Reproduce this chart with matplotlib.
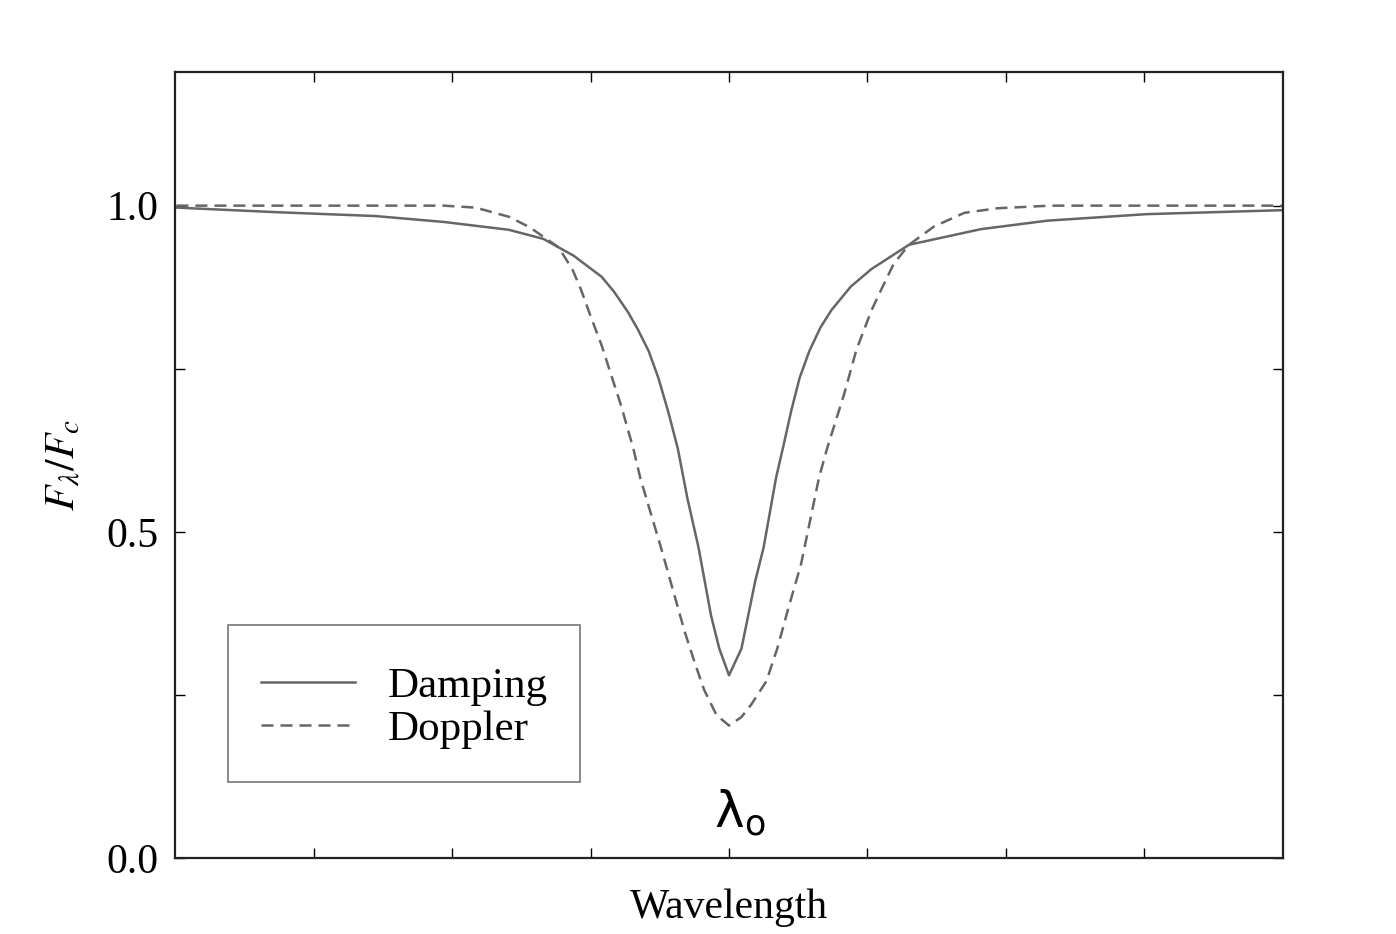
#======================================================================
# Line profile: Damping (Lorentzian-like) vs Doppler (Gaussian-like)
#======================================================================
import matplotlib
matplotlib.use('Agg')
import matplotlib.pyplot as plt
import numpy as np

#--------------------------------------------------------------------------
# Values (x in units of tick spacing, 0 = line centre)
#--------------------------------------------------------------------------
damp_x = [-3.99, -3.27, -2.55, -2.06, -1.59, -1.34, -1.23, -1.12, -1.02,
          -0.92, -0.83, -0.73, -0.66, -0.58, -0.51, -0.44, -0.37, -0.30,
          -0.22, -0.13, -0.07, 0.0, 0.09, 0.14, 0.19, 0.25, 0.34, 0.39,
          0.45, 0.51, 0.58, 0.66, 0.74, 0.88, 1.03, 1.30, 1.82, 2.30, 3.02, 3.99]
damp_f = [0.997, 0.990, 0.984, 0.975, 0.963, 0.949, 0.936, 0.923, 0.907,
          0.891, 0.868, 0.837, 0.811, 0.777, 0.736, 0.685, 0.628, 0.551,
          0.476, 0.372, 0.321, 0.280, 0.321, 0.373, 0.425, 0.476, 0.583, 0.629,
          0.686, 0.736, 0.777, 0.813, 0.840, 0.876, 0.903, 0.940, 0.964, 0.977,
          0.987, 0.993]

dopp_x = [-3.99, -2.06, -1.83, -1.59, -1.44, -1.23, -1.13, -1.07, -1.00,
          -0.92, -0.78, -0.69, -0.64, -0.56, -0.49, -0.32, -0.25, -0.18,
          -0.09, 0.0, 0.09, 0.16, 0.27, 0.35, 0.43, 0.52, 0.65, 0.71,
          0.83, 0.92, 1.03, 1.11, 1.19, 1.30, 1.48, 1.70, 1.94, 2.32, 4.0]
dopp_f = [1.0, 1.0, 0.997, 0.983, 0.967, 0.936, 0.902, 0.872, 0.831,
          0.786, 0.694, 0.627, 0.582, 0.525, 0.475, 0.347, 0.301, 0.258,
          0.219, 0.203, 0.216, 0.235, 0.271, 0.322, 0.384, 0.450, 0.583, 0.629,
          0.710, 0.779, 0.840, 0.876, 0.911, 0.940, 0.968, 0.989, 0.996, 1.0, 1.0]

y_ticks = [0.0, 0.25, 0.5, 0.75, 1.0]
y_labels = ['0.0', '', '0.5', '', '1.0']
x_ticks = [-3, -2, -1, 0, 1, 2, 3]

#--------------------------------------------------------------------------
#                  Plotting Logic
#--------------------------------------------------------------------------
plt.rcParams['font.family'] = ['Liberation Serif', 'DejaVu Serif']
plt.rcParams['mathtext.fontset'] = 'stix'

fig = plt.figure(figsize=(13.96, 9.34), dpi=100)
ax = fig.add_axes([0.1254, 0.0814, 0.7936, 0.8416])

line_col = '#666666'
ax.plot(damp_x, damp_f, color=line_col, lw=1.8, label='Damping')
ax.plot(dopp_x, dopp_f, color=line_col, lw=1.8, dashes=(4.8, 2.8), label='Doppler')

ax.set_xlim(-4, 4)
ax.set_ylim(0, 1.205)
ax.set_xticks(x_ticks)
ax.set_xticklabels([])
ax.set_yticks(y_ticks)
ax.set_yticklabels(y_labels, fontsize=30)
ax.tick_params(direction='in', length=7, width=1.0, top=True, right=True, pad=12)

for s in ax.spines.values():
    s.set_linewidth(1.6)
    s.set_color('#222222')

ax.set_xlabel('Wavelength', fontsize=30, labelpad=10)
ax.set_ylabel(r'$F_\lambda/F_c$', fontsize=30, labelpad=16)

ax.text(0.08, 0.03, r'$\mathrm{\lambda}_\mathrm{o}$', fontsize=36, ha='center', va='bottom',
        family='DejaVu Sans', math_fontfamily='dejavusans')

leg = ax.legend(loc='lower left', bbox_to_anchor=(0.048, 0.097), borderaxespad=0,
                fontsize=31, frameon=True, fancybox=False, framealpha=1,
                handlelength=2.2, handletextpad=0.75, labelspacing=0.1,
                borderpad=0.75, title=' ', title_fontsize=4)
leg.get_frame().set_edgecolor('#777777')
leg.get_frame().set_linewidth(1.2)

fig.savefig('out.png', dpi=100)
print("Completed Successfully ...")
